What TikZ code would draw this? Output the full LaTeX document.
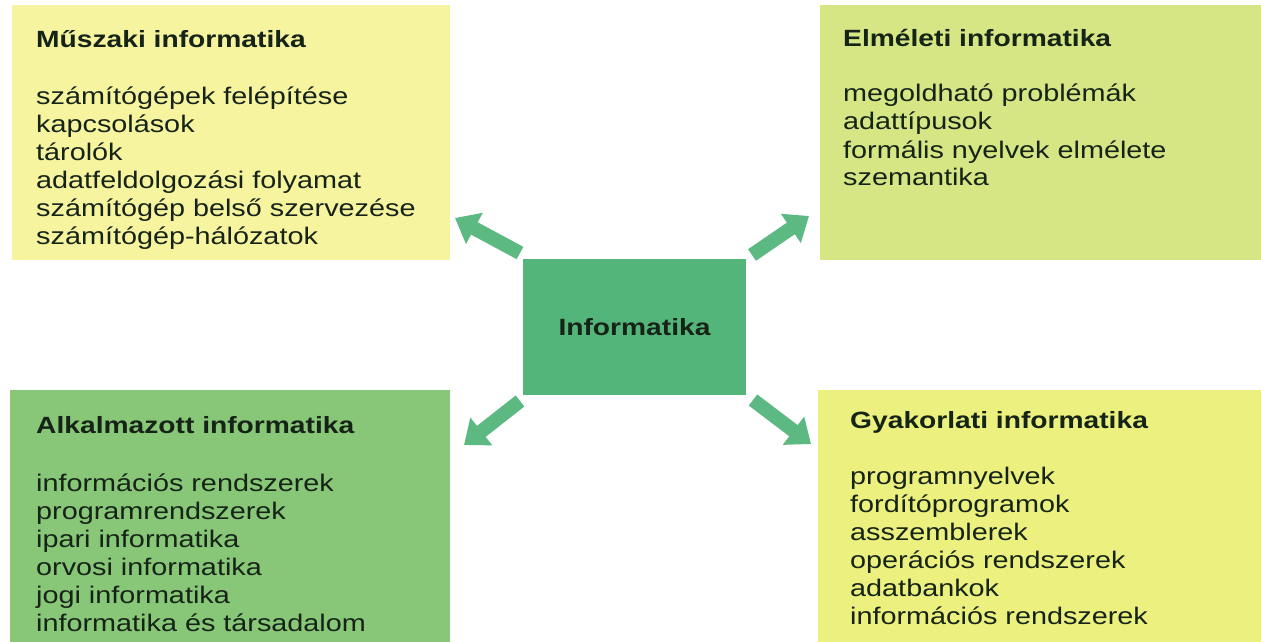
\documentclass[tikz,border=0pt]{standalone}
\usepackage{fontspec}
\setmainfont{Liberation Sans}[FakeStretch=1.2]
\usetikzlibrary{arrows.meta}
\definecolor{paleyellow}{RGB}{247,244,160}
\definecolor{limegreen}{RGB}{214,230,132}
\definecolor{softgreen}{RGB}{136,198,120}
\definecolor{brightyellow}{RGB}{235,240,126}
\definecolor{coregreen}{RGB}{84,181,122}
\definecolor{arrowgreen}{RGB}{92,185,130}
\definecolor{inkdark}{RGB}{22,36,24}
\tikzset{
  panel/.style={rectangle, draw=none, inner sep=0pt},
  heading/.style={anchor=base west, inner sep=0pt, text=inkdark,
    font=\fontsize{23.5}{28}\selectfont\bfseries},
  items/.style={anchor=base west, inner sep=0pt, text=inkdark, text width=420pt, align=left,
    font=\fontsize{24}{28}\selectfont},
  bigarrow/.style={draw=arrowgreen, line width=14pt,
    -{Triangle[width=34pt,length=22pt]}, arrowgreen}
}
\begin{document}
\begin{tikzpicture}[x=1pt,y=-1pt]
\useasboundingbox (0,0) rectangle (1261,642);

% coloured panels
\node[panel, fill=paleyellow, minimum width=438pt, minimum height=255pt] (tl) at (231,132.5) {};
\node[panel, fill=limegreen, minimum width=441pt, minimum height=255pt] (tr) at (1040.5,132.5) {};
\node[panel, fill=softgreen, minimum width=440pt, minimum height=252pt] (bl) at (230,516) {};
\node[panel, fill=brightyellow, minimum width=443pt, minimum height=252pt] (br) at (1039.5,516) {};
\node[panel, fill=coregreen, minimum width=223pt, minimum height=136pt,
      text=inkdark, font=\fontsize{23.5}{28}\selectfont\bfseries] (core) at (634.5,327) {Informatika};

% panel texts
\node[heading] (tlh) at (36,48) {Műszaki informatika};
\node[items] (tlb) at (36,104) {számítógépek felépítése\\kapcsolások\\tárolók\\adatfeldolgozási folyamat\\számítógép belső szervezése\\számítógép-hálózatok};

\node[heading] (trh) at (843,47) {Elméleti informatika};
\node[items] (trb) at (843,102) {megoldható problémák\\adattípusok\\formális nyelvek elmélete\\szemantika};

\node[heading] (blh) at (36,433) {Alkalmazott informatika};
\node[items] (blb) at (36,491) {információs rendszerek\\programrendszerek\\ipari informatika\\orvosi informatika\\jogi informatika\\informatika és társadalom};

\node[heading] (brh) at (850,428) {Gyakorlati informatika};
\node[items] (brb) at (850,484) {programnyelvek\\fordítóprogramok\\asszemblerek\\operációs rendszerek\\adatbankok\\információs rendszerek};

% arrows from the core box towards the four fields
\coordinate (a1s) at (520,253);
\coordinate (a1e) at (455,218);
\coordinate (a2s) at (752,255);
\coordinate (a2e) at (809,216);
\coordinate (a3s) at (520,401);
\coordinate (a3e) at (464,445);
\coordinate (a4s) at (753,400);
\coordinate (a4e) at (811,444);
\draw[bigarrow] (a1s) -- (a1e);
\draw[bigarrow] (a2s) -- (a2e);
\draw[bigarrow] (a3s) -- (a3e);
\draw[bigarrow] (a4s) -- (a4e);
\end{tikzpicture}
\end{document}
